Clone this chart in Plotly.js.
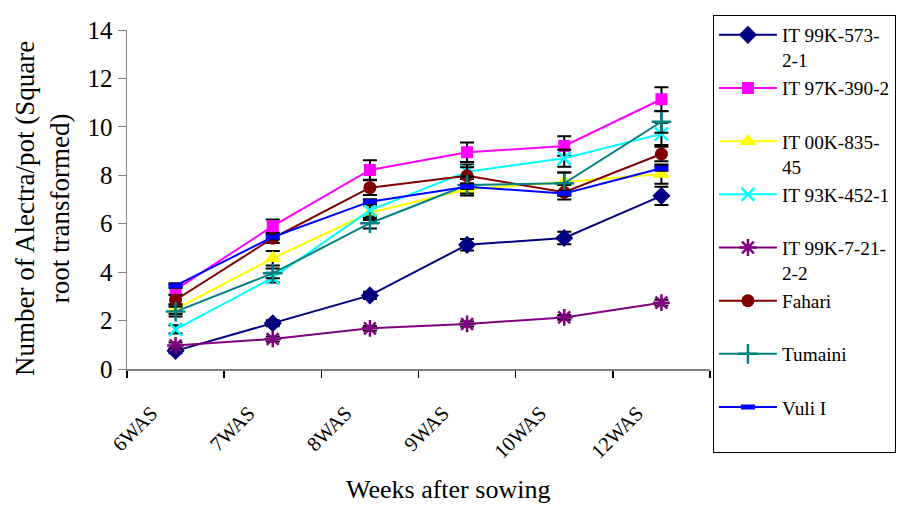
<!DOCTYPE html>
<html>
<head>
<meta charset="utf-8">
<script src="https://cdn.plot.ly/plotly-3.0.1.min.js"></script>
<style>html,body{margin:0;padding:0;background:#fff;}#chart{width:915px;height:506px;}</style>
</head>
<body>
<div id="chart"></div>
<script>
var weeks = ["6WAS", "7WAS", "8WAS", "9WAS", "10WAS", "12WAS"];

var names = ["IT 99K-573-<br>2-1", "IT 97K-390-2<br> ", "IT 00K-835-<br>45", "IT 93K-452-1<br> ",
             "IT 99K-7-21-<br>2-2", "Fahari<br> ", "Tumaini<br> ", "Vuli I<br> "];

var xTitle = "Weeks after sowing";
var yTitle = "Number of Alectra/pot (Square<br>root transformed)";

var it99k573 = [0.75, 1.89, 3.04, 5.13, 5.41, 7.15];
var it97k390 = [3.28, 5.90, 8.22, 8.95, 9.21, 11.14];
var it00k835 = [2.47, 4.57, 6.45, 7.42, 7.72, 8.05];
var it93k452 = [1.64, 3.77, 6.55, 8.15, 8.70, 9.71];
var it99k721 = [0.97, 1.24, 1.68, 1.86, 2.13, 2.74];
var fahari   = [2.85, 5.40, 7.49, 7.98, 7.30, 8.88];
var tumaini  = [2.37, 3.95, 6.02, 7.60, 7.67, 10.21];
var vuli     = [3.44, 5.45, 6.91, 7.53, 7.25, 8.29];

var err99k573 = [0.10, 0.12, 0.15, 0.24, 0.26, 0.38];
var err97k390 = [0.20, 0.27, 0.40, 0.40, 0.40, 0.50];
var err00k835 = [0.20, 0.30, 0.30, 0.25, 0.40, 0.40];
var err93k452 = [0.17, 0.20, 0.25, 0.30, 0.35, 0.46];
var err99k721 = [0.12, 0.10, 0.10, 0.10, 0.10, 0.12];
var errFahari = [0.20, 0.20, 0.30, 0.35, 0.30, 0.30];
var errTumaini = [0.20, 0.20, 0.22, 0.35, 0.45, 0.45];
var errVuli = [0.10, 0.10, 0.10, 0.10, 0.10, 0.10];

var series = [
  {y: it99k573, e: err99k573, color: "#000080", symbol: "diamond", size: 14},
  {y: it97k390, e: err97k390, color: "#FF00FF", symbol: "square", size: 12},
  {y: it00k835, e: err00k835, color: "#FFFF00", symbol: "triangle-up", size: 15},
  {y: it93k452, e: err93k452, color: "#00FFFF", symbol: "x-thin-open", size: 13},
  {y: it99k721, e: err99k721, color: "#800080", symbol: "asterisk-open", size: 14},
  {y: fahari, e: errFahari, color: "#800000", symbol: "circle", size: 13},
  {y: tumaini, e: errTumaini, color: "#008080", symbol: "cross-thin-open", size: 14},
  {y: vuli, e: errVuli, color: "#0000FF", symbol: "line-ew-open", size: 10}
];

var traces = series.map(function (s, i) {
  var open = s.symbol.indexOf("open") >= 0;
  return {
    type: "scatter",
    mode: "lines+markers",
    name: names[i],
    x: weeks,
    y: s.y,
    line: {color: s.color, width: 2},
    marker: {
      symbol: s.symbol,
      size: s.size,
      color: s.color,
      line: {color: s.color, width: open ? (s.symbol === "line-ew-open" ? 5 : 2.5) : 0}
    },
    error_y: {type: "data", array: s.e, visible: true, color: "#000000", thickness: 2, width: 7}
  };
});

var layout = {
  width: 915,
  height: 506,
  paper_bgcolor: "#ffffff",
  plot_bgcolor: "#ffffff",
  margin: {l: 127, r: 205, t: 30, b: 137},
  font: {family: "Liberation Serif, Times New Roman, serif", color: "#000000"},
  showlegend: true,
  legend: {
    x: 1.005, xanchor: "left",
    y: 1.045, yanchor: "top",
    bordercolor: "#000000", borderwidth: 1,
    bgcolor: "#ffffff",
    font: {size: 19.3, family: "Liberation Serif, serif", color: "#000000"},
    valign: "top",
    itemwidth: 58,
    maxheight: 500,
    traceorder: "normal"
  },
  xaxis: {
    type: "category",
    range: [-0.5, 5.5],
    tickson: "boundaries",
    ticks: "outside",
    ticklen: 7,
    tickwidth: 1.5,
    tickcolor: "#000000",
    showline: true,
    linecolor: "#808080",
    linewidth: 2,
    showgrid: false,
    zeroline: false,
    tickangle: -45,
    tickfont: {size: 20.5},
    ticklabelshift: -24,
    ticklabelstandoff: 22,
    automargin: false
  },
  yaxis: {
    range: [0, 14],
    dtick: 2,
    ticks: "outside",
    ticklen: 8,
    tickwidth: 1,
    tickcolor: "#808080",
    showline: true,
    linecolor: "#808080",
    linewidth: 1.5,
    showgrid: false,
    zeroline: false,
    tickfont: {size: 25},
    automargin: false
  },
  annotations: [
    {text: xTitle, xref: "paper", yref: "paper", x: 0.5506, y: (369 - 489) / 339,
     xanchor: "center", yanchor: "middle", showarrow: false, font: {size: 26}},
    {text: yTitle, xref: "paper", yref: "paper", x: (42 - 127) / 583, y: (369 - 209) / 339,
     xanchor: "center", yanchor: "middle", showarrow: false, textangle: -90, font: {size: 27}}
  ]
};

Plotly.newPlot("chart", traces, layout, {displayModeBar: false, staticPlot: true});
</script>
</body>
</html>
